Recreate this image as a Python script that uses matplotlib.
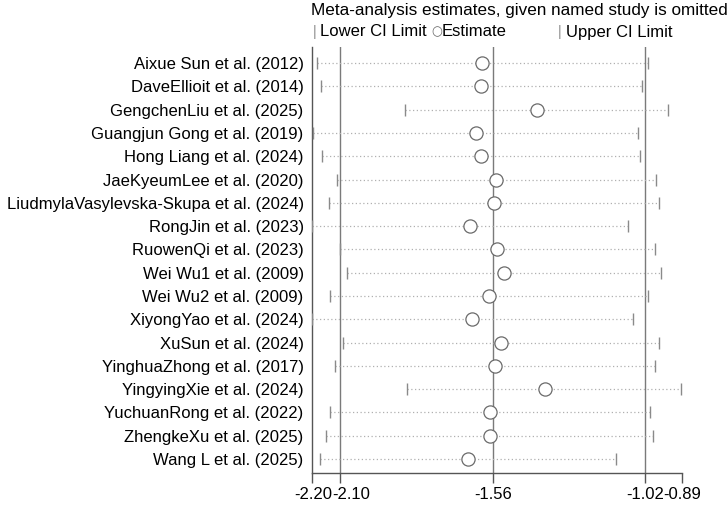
import matplotlib
matplotlib.use("Agg")
import matplotlib.pyplot as plt
from matplotlib.transforms import ScaledTranslation

plt.rcParams['font.family'] = ['Liberation Sans', 'DejaVu Sans']

studies = [
    "Aixue Sun et al. (2012)",
    "DaveEllioit et al. (2014)",
    "GengchenLiu et al. (2025)",
    "Guangjun Gong et al. (2019)",
    "Hong Liang et al. (2024)",
    "JaeKyeumLee et al. (2020)",
    "LiudmylaVasylevska-Skupa et al. (2024)",
    "RongJin et al. (2023)",
    "RuowenQi et al. (2023)",
    "Wei Wu1 et al. (2009)",
    "Wei Wu2 et al. (2009)",
    "XiyongYao et al. (2024)",
    "XuSun et al. (2024)",
    "YinghuaZhong et al. (2017)",
    "YingyingXie et al. (2024)",
    "YuchuanRong et al. (2022)",
    "ZhengkeXu et al. (2025)",
    "Wang L et al. (2025)",
]
estimate = [-1.598, -1.602, -1.405, -1.620, -1.603, -1.549, -1.556, -1.641, -1.544,
            -1.521, -1.575, -1.632, -1.531, -1.551, -1.376, -1.570, -1.570, -1.649]
lower = [-2.184, -2.169, -1.870, -2.195, -2.163, -2.113, -2.140, -2.199, -2.101,
         -2.075, -2.137, -2.199, -2.089, -2.117, -1.862, -2.137, -2.152, -2.172]
upper = [-1.012, -1.032, -0.939, -1.047, -1.039, -0.982, -0.971, -1.080, -0.986,
         -0.965, -1.012, -1.062, -0.971, -0.986, -0.894, -1.002, -0.991, -1.123]
ref_lines = [-2.10, -1.56, -1.02]
xticks = [-2.20, -2.10, -1.56, -1.02, -0.89]
xticklabels = ["-2.20", "-2.10", "-1.56", "-1.02", "-0.89"]

fig = plt.figure(figsize=(7.27, 5.05), dpi=100)
fig.patch.set_facecolor("white")
ax = fig.add_axes([312/727, 1-473/505, (682-312)/727, (473-47)/505])

n = len(studies)
ypos = list(range(1, n + 1))

for rl in ref_lines:
    ax.axvline(rl, color="#7a7a7a", lw=1.0, zorder=1)

for y, lo, e, up in zip(ypos, lower, estimate, upper):
    ax.plot([lo, up], [y, y], linestyle=(0, (1, 2)), color="#b0b0b0", lw=0.9, zorder=2)
ax.plot(lower, ypos, linestyle="none", marker="|", markersize=9, color="#8a8a8a",
        markeredgewidth=1.0, zorder=3)
ax.plot(upper, ypos, linestyle="none", marker="|", markersize=9, color="#8a8a8a",
        markeredgewidth=1.0, zorder=3)
ax.plot(estimate, ypos, linestyle="none", marker="o", markersize=9.5,
        markerfacecolor="white", markeredgecolor="#6a6a6a", markeredgewidth=0.9, zorder=4)

ax.set_xlim(-2.20, -0.89)
ax.set_ylim(18.6, 0.31)
ax.set_yticks(ypos)
ax.set_yticklabels(studies, fontsize=12)
ax.tick_params(axis="y", length=0, pad=6)
ax.set_xticks(xticks)
ax.set_xticklabels(xticklabels, fontsize=12)
ax.tick_params(axis="x", length=7, width=1, color="#555555", pad=3)

# Nudge crowded tick labels apart (as in the reference)
shifts = [1, 11, 0, 0, 0]
for lab, dx in zip(ax.get_xticklabels(), shifts):
    lab.set_transform(lab.get_transform() + ScaledTranslation(dx/100, 0, fig.dpi_scale_trans))

for side in ["top", "right"]:
    ax.spines[side].set_visible(False)
for side in ["left", "bottom"]:
    ax.spines[side].set_color("#555555")
    ax.spines[side].set_linewidth(1.0)

fig.text(519/727, 1-10/505, "Meta-analysis estimates, given named study is omitted",
         ha="center", va="center", fontsize=12.3)
fig.text(313/727, 1-32/505, "|", ha="left", va="center", fontsize=10, color="#8a8a8a")
fig.text(320/727, 1-32/505, "Lower CI Limit", ha="left", va="center", fontsize=12)
fig.text(431/727, 1-32/505, "\u25cb", ha="left", va="center", fontsize=9, color="#6a6a6a",
         family=["DejaVu Sans"])
fig.text(442/727, 1-32/505, "Estimate", ha="left", va="center", fontsize=12)
fig.text(558/727, 1-32/505, "|", ha="left", va="center", fontsize=10, color="#8a8a8a")
fig.text(566/727, 1-32/505, "Upper CI Limit", ha="left", va="center", fontsize=12)

fig.savefig("out.png", dpi=100, facecolor="white")
